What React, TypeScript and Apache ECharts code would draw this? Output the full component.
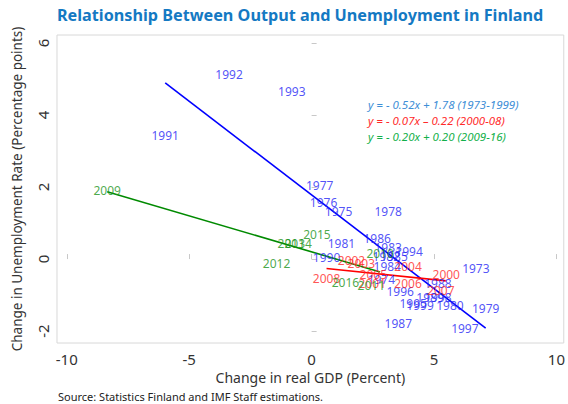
import React, { useEffect, useRef } from "react";
import * as echarts from "echarts";

const blueYears = ["1973","1974","1975","1976","1977","1978","1979","1980","1981","1982","1983","1984","1985","1986","1987","1988","1989","1990","1991","1992","1993","1994","1995","1996","1997","1998","1999"];
const blueX = [6.71,2.85,1.10,0.49,0.33,3.13,7.11,5.65,1.22,3.05,3.13,3.09,3.37,2.68,3.54,5.16,4.84,0.61,-5.98,-3.37,-0.81,3.98,4.15,3.62,6.26,5.16,4.43];
const blueY = [-0.25,-0.58,1.31,1.56,2.03,1.33,-1.36,-1.28,0.44,0.08,0.31,-0.22,0.08,0.58,-1.78,-0.69,-1.08,0.03,3.44,5.11,4.64,0.22,-1.22,-0.89,-1.94,-1.08,-1.28];

const redYears = ["2000","2001","2002","2003","2004","2005","2006","2007","2008"];
const redX = [5.5,2.48,1.63,2.03,3.94,2.52,3.94,5.28,0.61];
const redY = [-0.42,-0.69,-0.03,-0.11,-0.22,-0.42,-0.69,-0.86,-0.53];

const greenYears = ["2009","2010","2011","2012","2013","2014","2015","2016"];
const greenX = [-8.35,2.8,2.44,-1.43,-0.83,-0.55,0.22,1.38];
const greenY = [1.9,0.15,-0.72,-0.11,0.44,0.44,0.69,-0.64];

// fitted lines: [slope, intercept]
const blueFit = [-0.52, 1.78];
const redFit = [-0.07, -0.22];
const greenFit = [-0.2, 0.2];

const legendTexts = [
  "y = - 0.52x + 1.78 (1973-1999)",
  "y = - 0.07x – 0.22 (2000-08)",
  "y = - 0.20x + 0.20 (2009-16)",
];

const xTicks = [-10, -5, 0, 5, 10];
const yTicks = [-2, 0, 2, 4, 6];

const FONT = "Noto Sans";

function pts(years: string[], xs: number[], ys: number[]) {
  return years.map((y, i) => ({ name: y, value: [xs[i], ys[i]] }));
}
function fitLine(xs: number[], fit: number[]) {
  const lo = Math.min(...xs);
  const hi = Math.max(...xs);
  return [[lo, fit[0] * lo + fit[1]], [hi, fit[0] * hi + fit[1]]];
}

export default function App() {
  const ref = useRef<HTMLDivElement>(null);
  useEffect(() => {
    if (!ref.current) return;
    const chart = echarts.init(ref.current, null, { renderer: "svg" });
    const labelSeries = (data: any[], color: string) => ({
      type: "scatter",
      data,
      symbolSize: 1,
      itemStyle: { color: "rgba(0,0,0,0)" },
      label: {
        show: true,
        position: "inside",
        formatter: (p: any) => p.name,
        color,
        fontSize: 12,
        fontFamily: FONT,
      },
      z: 3,
    });
    const lineSeries = (data: any[], color: string) => ({
      type: "line",
      data,
      showSymbol: false,
      symbol: "none",
      lineStyle: { color, width: 1.6 },
      z: 2,
    });
    chart.setOption({
      animation: false,
      backgroundColor: "#fff",
      grid: { left: 57, right: 2, top: 35, bottom: 61, show: true, borderColor: "#d8d8d8", borderWidth: 1 },
      xAxis: {
        type: "value",
        min: -10.4,
        max: 10.3,
        name: "Change in real GDP (Percent)",
        nameLocation: "middle",
        nameGap: 27,
        nameTextStyle: { fontSize: 14, color: "#333", fontFamily: FONT },
        axisLine: { show: false },
        splitLine: { show: false },
        axisTick: { show: true, inside: true, length: 5, lineStyle: { color: "#c8c8c8" }, customValues: xTicks },
        axisLabel: { fontSize: 15, color: "#333", fontFamily: FONT, margin: 8, customValues: xTicks },
      },
      yAxis: {
        type: "value",
        min: -2.33,
        max: 6.22,
        name: "Change in Unemployment Rate (Percentage points)",
        nameLocation: "middle",
        nameGap: 33,
        nameTextStyle: { fontSize: 13.5, color: "#333", fontFamily: FONT },
        axisLine: { show: false },
        splitLine: { show: false },
        axisTick: { show: true, inside: true, length: 5, lineStyle: { color: "#c8c8c8" }, customValues: yTicks },
        axisLabel: { fontSize: 15, color: "#333", fontFamily: FONT, margin: 7, rotate: 90, customValues: yTicks },
      },
      graphic: [
        {
          type: "text",
          left: 57,
          top: 7,
          style: { text: "Relationship Between Output and Unemployment in Finland", fontSize: 16.2, fontWeight: "bold", fill: "#1479C3", fontFamily: FONT },
        },
        ...legendTexts.map((t, i) => ({
          type: "text",
          left: 368,
          top: 98 + i * 16,
          style: { text: t, fontSize: 11.5, fontStyle: "italic", fill: ["#3E8ED6", "#FF2A2A", "#12B04A"][i], fontFamily: FONT },
        })),
        {
          type: "text",
          left: 58,
          top: 391,
          style: { text: "Source: Statistics Finland and IMF Staff estimations.", fontSize: 11, fill: "#222", fontFamily: FONT },
        },
      ],
      series: [
        lineSeries(fitLine(blueX, blueFit), "#0000FF"),
        lineSeries(fitLine(redX, redFit), "#FF0000"),
        lineSeries(fitLine(greenX, greenFit), "#008A00"),
        labelSeries(pts(blueYears, blueX, blueY), "#2626F5"),
        labelSeries(pts(redYears, redX, redY), "#FF2828"),
        labelSeries(pts(greenYears, greenX, greenY), "#1A931A"),
      ],
    });
    return () => chart.dispose();
  }, []);
  return <div ref={ref} style={{ position: "fixed", left: 0, top: 0, width: 568, height: 404 }} />;
}
